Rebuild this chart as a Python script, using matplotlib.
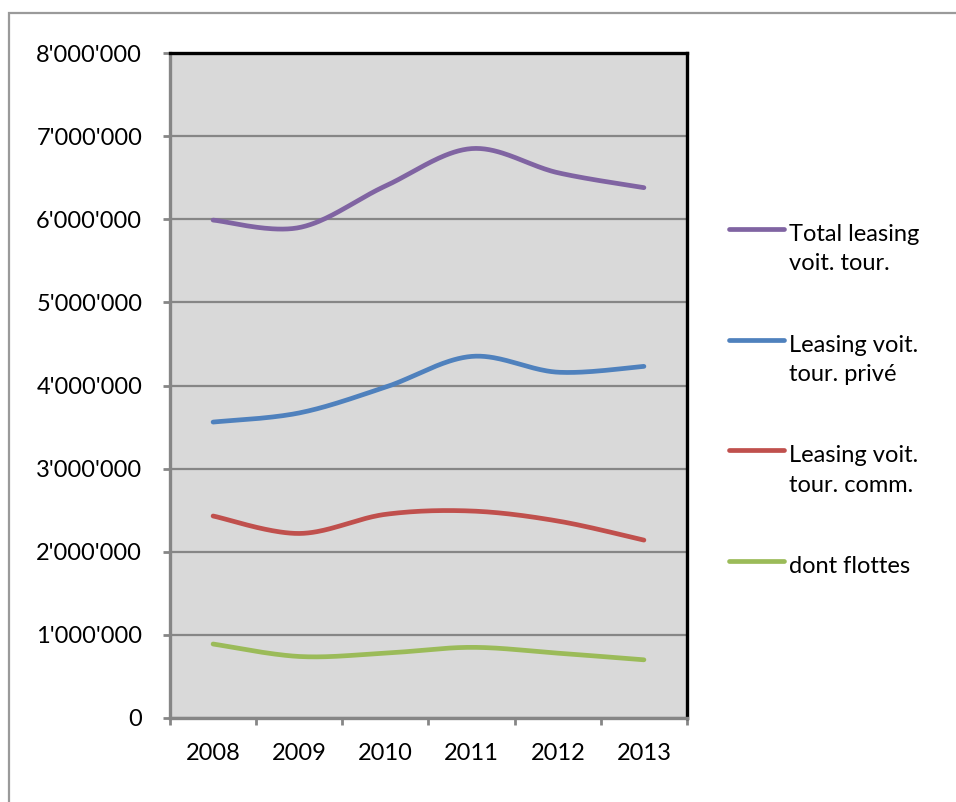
import numpy as np
import matplotlib
matplotlib.use("Agg")
import matplotlib.pyplot as plt
from matplotlib.patches import Rectangle
from matplotlib.ticker import FuncFormatter, FixedLocator

plt.rcParams['font.family'] = ['Lato', 'DejaVu Sans']

years = ["2008", "2009", "2010", "2011", "2012", "2013"]
total = [5.99e6, 5.90e6, 6.40e6, 6.85e6, 6.56e6, 6.38e6]
prive = [3.56e6, 3.67e6, 3.98e6, 4.35e6, 4.16e6, 4.23e6]
comm = [2.43e6, 2.22e6, 2.45e6, 2.49e6, 2.37e6, 2.14e6]
flottes = [0.89e6, 0.74e6, 0.78e6, 0.85e6, 0.78e6, 0.70e6]

series_names = ["Total leasing\nvoit. tour.", "Leasing voit.\ntour. privé",
                "Leasing voit.\ntour. comm.", "dont flottes"]
series_values = [total, prive, comm, flottes]
series_colors = ["#8064A2", "#4F81BD", "#C0504D", "#9BBB59"]

FS = 17


def smooth(xs, ys, n=40):
    pts = np.column_stack([xs, ys]).astype(float)
    m = len(pts)
    out = []
    for i in range(m - 1):
        p0 = pts[max(i - 1, 0)]
        p1 = pts[i]
        p2 = pts[i + 1]
        p3 = pts[min(i + 2, m - 1)]
        c1 = p1 + (p2 - p0) / 6.0
        c2 = p2 - (p3 - p1) / 6.0
        t = np.linspace(0, 1, n)[:, None]
        seg = ((1 - t) ** 3) * p1 + 3 * ((1 - t) ** 2) * t * c1 + 3 * (1 - t) * t ** 2 * c2 + t ** 3 * p2
        if i > 0:
            seg = seg[1:]
        out.append(seg)
    out = np.vstack(out)
    return out[:, 0], out[:, 1]


fig = plt.figure(figsize=(9.56, 8.02), dpi=100)
W, H = 956, 802

# outer chart border (left and top visible)
fig.add_artist(Rectangle((9 / W, -0.1), 1.2, 1.1 - 13 / H, transform=fig.transFigure,
                         fill=False, edgecolor="#9a9a9a", linewidth=1.6))

ax = fig.add_axes([170 / W, (H - 718) / H, (687 - 170) / W, (718 - 53) / H])
ax.set_facecolor("#D9D9D9")

x = np.arange(len(years))
handles = []
for vals, name, col in zip(series_values, series_names, series_colors):
    sx, sy = smooth(x, vals)
    ln, = ax.plot(sx, sy, color=col, linewidth=3.4, solid_capstyle="round", label=name, zorder=3)
    handles.append(ln)

ax.set_xlim(-0.5, len(years) - 0.5)
ax.set_ylim(0, 8e6)
ax.yaxis.set_major_locator(FixedLocator(np.arange(0, 8.01e6, 1e6)))
ax.yaxis.set_major_formatter(FuncFormatter(lambda v, p: f"{int(round(v)):,}".replace(",", "'")))
ax.grid(axis="y", color="#868686", linewidth=1.6, zorder=1)
ax.set_axisbelow(True)

ax.xaxis.set_major_locator(FixedLocator(np.arange(-0.5, len(years), 1.0)))
ax.xaxis.set_major_formatter(FuncFormatter(lambda v, p: ""))
ax.xaxis.set_minor_locator(FixedLocator(x))
ax.set_xticklabels(years, minor=True)
ax.tick_params(axis="x", which="major", direction="out", length=5, width=2, color="#868686")
ax.tick_params(axis="x", which="minor", length=0, pad=18, labelsize=FS)
ax.tick_params(axis="y", which="major", direction="out", length=5, width=2, color="#868686",
               pad=15, labelsize=FS)

for s in ["left", "bottom"]:
    ax.spines[s].set_color("#868686")
    ax.spines[s].set_linewidth(2.4)
for s in ["top", "right"]:
    ax.spines[s].set_color("black")
    ax.spines[s].set_linewidth(2.4)

leg = ax.legend(handles=handles, labels=series_names, loc="upper left",
                bbox_to_anchor=(729 / W, 1 - 224 / H), bbox_transform=fig.transFigure,
                frameon=False, fontsize=FS, handlelength=2.35, handletextpad=0.2,
                labelspacing=2.55, borderpad=0, borderaxespad=0)
for t in leg.get_texts():
    t.set_linespacing(1.5)

fig.canvas.draw()
for t, l in zip(leg.get_texts(), leg.get_lines()):
    bb = t.get_window_extent()
    tr = l.get_transform()
    xd = l.get_xdata()
    target = bb.y1 - 5
    newy = tr.inverted().transform((0, target))[1]
    l.set_ydata(np.full(len(xd), newy))

fig.savefig("out.png", dpi=100)
